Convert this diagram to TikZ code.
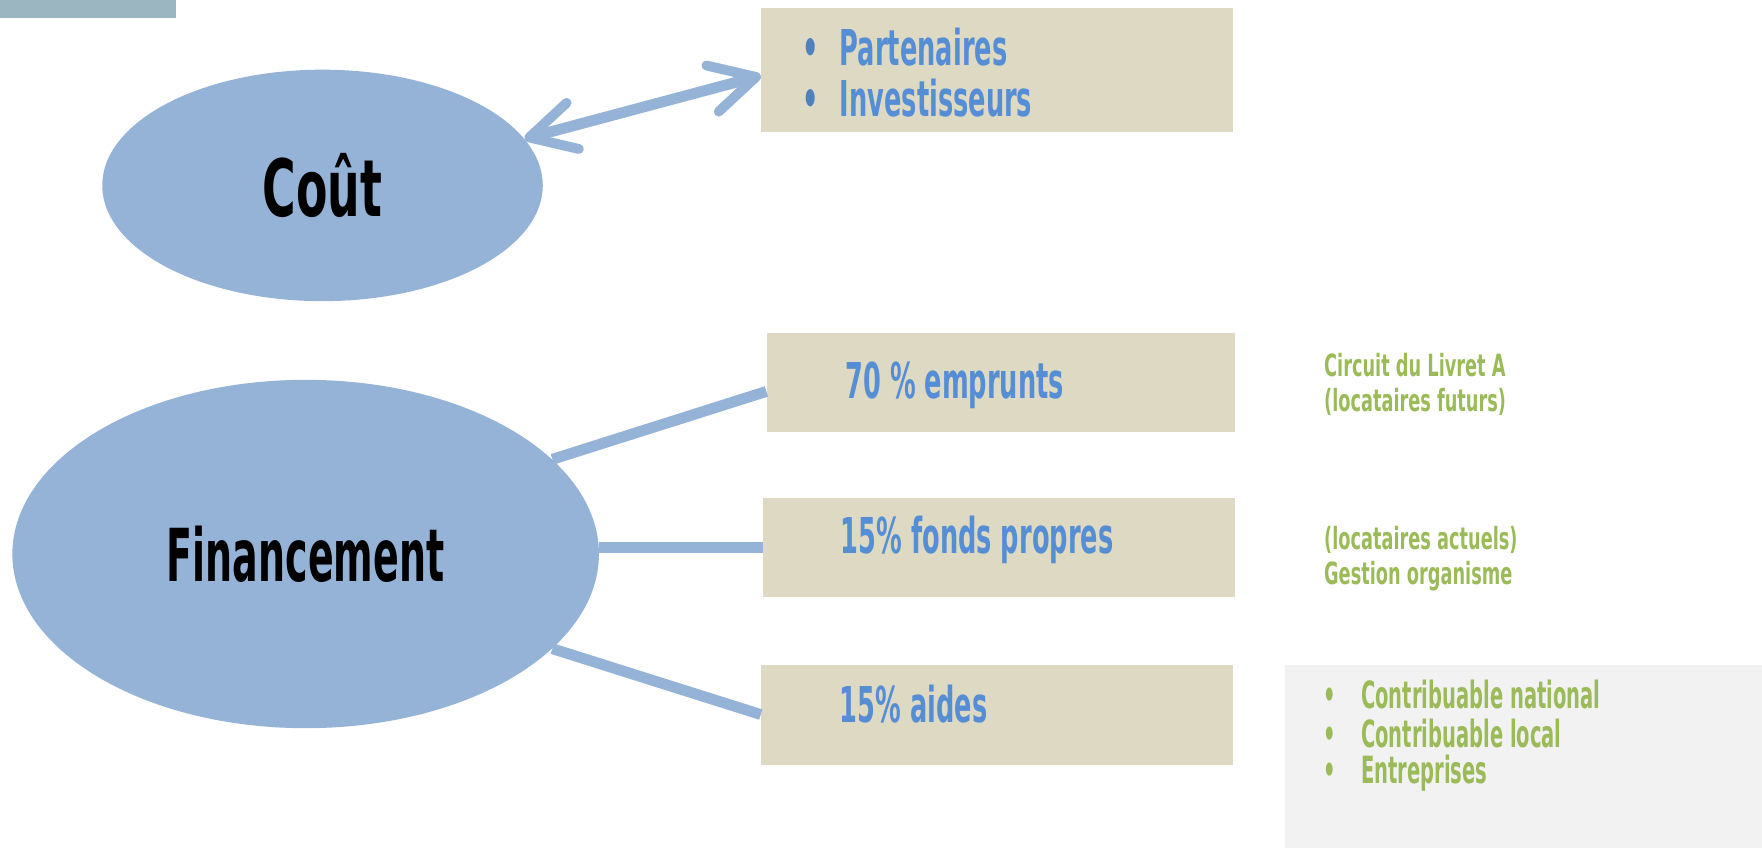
\documentclass[tikz,border=0pt]{standalone}
\usepackage{fontspec}
\newfontfamily\agency[FakeStretch=0.52]{DejaVu Sans}
\newfontfamily\agencyw[FakeStretch=0.58]{DejaVu Sans}
\usetikzlibrary{shapes.geometric,arrows.meta}
\definecolor{ellblue}{HTML}{95B3D7}
\definecolor{boxbeige}{HTML}{DDD9C3}
\definecolor{txtblue}{HTML}{558ED5}
\definecolor{bulblue}{HTML}{4F81BD}
\definecolor{txtgreen}{HTML}{9BBB59}
\definecolor{lightgray}{HTML}{F2F2F2}
\definecolor{corner}{HTML}{9BB5C1}
\tikzset{
  ell/.style={ellipse, fill=ellblue, draw=none, inner sep=0pt},
  beige/.style={fill=boxbeige, draw=none, inner sep=0pt, anchor=north west},
  conn/.style={draw=ellblue, line width=5.5pt},
  barb/.tip={Straight Barb[length=0.8cm,width=0.85cm,line width=5pt,round]},
  bluetxt/.style={anchor=west, inner sep=0pt, text=txtblue, font=\agency\bfseries\fontsize{25}{29}\selectfont},
  greentxt/.style={anchor=west, inner sep=0pt, text=txtgreen, font=\agencyw\bfseries\fontsize{15.5}{18}\selectfont},
  graytxt/.style={anchor=west, inner sep=0pt, text=txtgreen, font=\agency\bfseries\fontsize{19}{22}\selectfont},
}
\begin{document}
\begin{tikzpicture}[x=0.02cm,y=-0.02cm]
\useasboundingbox (0,0) rectangle (1568,754);
% corner tab
\fill[corner] (0,0) rectangle (157,16);
% gray side box
\node[fill=lightgray, draw=none, inner sep=0pt, anchor=north west, minimum width=425*0.02cm, minimum height=163*0.02cm] (aidbox) at (1143,591) {};
% beige boxes
\node[beige, minimum width=420*0.02cm, minimum height=110*0.02cm] (box0) at (677,7) {};
\node[beige, minimum width=417*0.02cm, minimum height=88*0.02cm] (box1) at (682,296) {};
\node[beige, minimum width=420*0.02cm, minimum height=88*0.02cm] (box2) at (679,443) {};
\node[beige, minimum width=420*0.02cm, minimum height=89*0.02cm] (box3) at (677,591) {};
% ellipses
\node[ell, minimum width=392*0.02cm, minimum height=206*0.02cm] (cout) at (287,165) {};
\node[ell, minimum width=522*0.02cm, minimum height=310*0.02cm] (fin) at (272,493) {};
% connectors
\draw[conn, line cap=round, barb-barb] (cout.13) -- ([yshift=-0.1cm]box0.west);
\draw[conn] (fin.21) -- ([yshift=-0.16cm]box1.west);
\draw[conn] (fin.east |- box2.west) -- (box2.west);
\draw[conn] (fin.-21) -- (box3.west);
% ellipse labels
\node[inner sep=0pt, font=\agencyw\bfseries\fontsize{40}{44}\selectfont] (coutlbl) at (cout.center) {Coût};
\node[inner sep=0pt, font=\agency\bfseries\fontsize{37}{42}\selectfont] (finlbl) at (fin.center) {Financement};
% box texts
\node[bluetxt] (p1) at (714,42) {\makebox[0.66cm][l]{\textcolor{bulblue}{•}}Partenaires};
\node[bluetxt] (p2) at (714,87) {\makebox[0.66cm][l]{\textcolor{bulblue}{•}}Investisseurs};
\node[bluetxt] (t1) at (752,343) {70 \% emprunts};
\node[bluetxt] (t2) at (748,480) {15\% fonds propres};
\node[bluetxt] (t3) at (747,627) {15\% aides};
% green texts
\node[greentxt] (g1) at (1178,325) {Circuit du Livret A};
\node[greentxt] (g2) at (1178,358) {(locataires futurs)};
\node[greentxt] (g3) at (1178,480) {(locataires actuels)};
\node[greentxt] (g4) at (1178,513) {Gestion organisme};
\node[graytxt] (c1) at (1177,618) {\makebox[0.68cm][l]{•}Contribuable national};
\node[graytxt] (c2) at (1177,653) {\makebox[0.68cm][l]{•}Contribuable local};
\node[graytxt] (c3) at (1177,688) {\makebox[0.68cm][l]{•}Entreprises};
\end{tikzpicture}
\end{document}
